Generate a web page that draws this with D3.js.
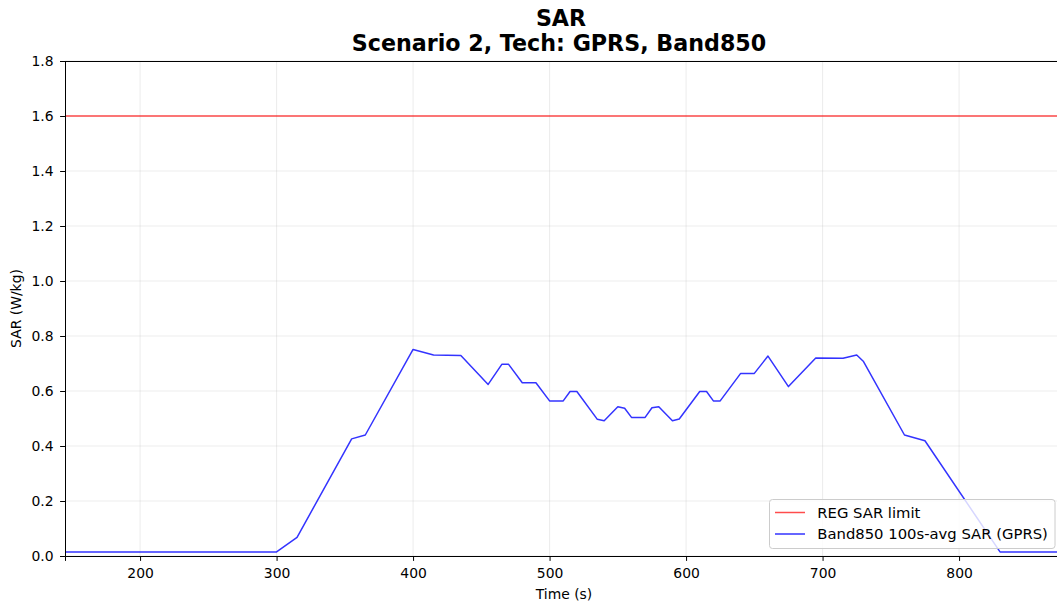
<!DOCTYPE html>
<html>
<head>
<meta charset="utf-8">
<script src="https://cdn.jsdelivr.net/npm/d3@7"></script>
<style>
  body { margin: 0; background: #fff; }
  svg { display: block; font-family: "DejaVu Sans", sans-serif; }
</style>
</head>
<body>
<svg id="chart" width="1057" height="606"></svg>
<script>
// Band850 100 s averaged SAR over time (GPRS)
const timeSec = [145, 300, 315, 355, 365, 400, 415, 435, 455, 465, 470, 480, 490, 500, 510, 515, 520, 535, 540, 550, 555, 560, 570, 575, 580, 590, 595, 610, 615, 620, 625, 640, 650, 660, 675, 695, 715, 725, 730, 760, 775, 830, 880];
const sarAvg = [0.015, 0.015, 0.068, 0.426, 0.44, 0.751, 0.731, 0.729, 0.624, 0.697, 0.697, 0.63, 0.63, 0.564, 0.564, 0.598, 0.598, 0.497, 0.492, 0.543, 0.537, 0.504, 0.504, 0.539, 0.543, 0.492, 0.498, 0.598, 0.598, 0.564, 0.564, 0.664, 0.664, 0.727, 0.616, 0.72, 0.719, 0.731, 0.707, 0.44, 0.419, 0.015, 0.015];
const regLimit = 1.6;

const xTicks = [200, 300, 400, 500, 600, 700, 800];
const yTicks = [0.0, 0.2, 0.4, 0.6, 0.8, 1.0, 1.2, 1.4, 1.6, 1.8];
const legendLabels = ["REG SAR limit", "Band850 100s-avg SAR (GPRS)"];

const W = 1057, H = 606;
const m = { left: 65, top: 61, right: 0, bottom: 50 };
const svg = d3.select("#chart");

const x = d3.scaleLinear().domain([145, 145 + (W - m.left) / 1.365]).range([m.left, W - m.right]);
const y = d3.scaleLinear().domain([0, 1.8]).range([H - m.bottom, m.top]);

svg.append("defs").append("clipPath").attr("id", "plot")
  .append("rect").attr("x", m.left).attr("y", m.top)
  .attr("width", W - m.left - m.right).attr("height", H - m.top - m.bottom);

// grid
const grid = svg.append("g").attr("stroke", "#b0b0b0").attr("stroke-opacity", 0.3).attr("stroke-width", 0.8);
grid.selectAll(".gx").data(xTicks).join("line")
  .attr("x1", d => x(d)).attr("x2", d => x(d)).attr("y1", m.top).attr("y2", H - m.bottom);
grid.selectAll(".gy").data(yTicks).join("line")
  .attr("x1", m.left).attr("x2", W - m.right).attr("y1", d => y(d)).attr("y2", d => y(d));

// regulatory limit
svg.append("line").attr("clip-path", "url(#plot)")
  .attr("x1", m.left).attr("x2", W).attr("y1", y(regLimit)).attr("y2", y(regLimit))
  .attr("stroke", "red").attr("stroke-opacity", 0.7).attr("stroke-width", 1.5);

// averaged SAR series
const line = d3.line().x((d, i) => x(timeSec[i])).y(d => y(d));
svg.append("path").datum(sarAvg).attr("clip-path", "url(#plot)")
  .attr("d", line).attr("fill", "none")
  .attr("stroke", "blue").attr("stroke-opacity", 0.8).attr("stroke-width", 1.5)
  .attr("stroke-linejoin", "round");

// axes
const xAxis = svg.append("g").attr("transform", `translate(0,${H - m.bottom})`)
  .call(d3.axisBottom(x).tickValues(xTicks).tickFormat(d3.format("d")).tickSizeOuter(0).tickSize(4.9).tickPadding(7));
const yAxis = svg.append("g").attr("transform", `translate(${m.left},0)`)
  .call(d3.axisLeft(y).tickValues(yTicks).tickFormat(d3.format(".1f")).tickSizeOuter(0).tickSize(4.9).tickPadding(6.5));
[xAxis, yAxis].forEach(g => {
  g.selectAll("text").attr("font-size", 13.9).attr("fill", "#000").attr("font-family", "DejaVu Sans");
  g.selectAll("line").attr("stroke", "#000").attr("stroke-width", 1);
  g.select(".domain").attr("stroke", "#000").attr("stroke-width", 1);
});
// top spine
svg.append("line").attr("x1", m.left).attr("x2", W).attr("y1", m.top + 0.5).attr("y2", m.top + 0.5)
  .attr("stroke", "#000").attr("stroke-width", 1);

// axis labels
svg.append("text").attr("x", 564).attr("y", 599).attr("text-anchor", "middle")
  .attr("font-size", 13.9).text("Time (s)");
svg.append("text").attr("transform", `translate(21,${(m.top + H - m.bottom) / 2}) rotate(-90)`)
  .attr("text-anchor", "middle").attr("font-size", 13.9).text("SAR (W/kg)");

// title
svg.append("text").attr("x", 561).attr("y", 26).attr("text-anchor", "middle")
  .attr("font-size", 22.2).attr("font-weight", "bold").text("SAR");
svg.append("text").attr("x", 559).attr("y", 51).attr("text-anchor", "middle")
  .attr("font-size", 22.2).attr("font-weight", "bold").text("Scenario 2, Tech: GPRS, Band850");

// legend
const lg = svg.append("g").attr("transform", "translate(769.5,499.5)");
lg.append("rect").attr("width", 285.5).attr("height", 49).attr("rx", 3)
  .attr("fill", "#fff").attr("fill-opacity", 0.8).attr("stroke", "#ccc").attr("stroke-width", 1);
const legendColors = ["red", "blue"];
legendLabels.forEach((lab, i) => {
  const yy = 13 + i * 21.5;
  lg.append("line").attr("x1", 5.5).attr("x2", 35.5).attr("y1", yy).attr("y2", yy)
    .attr("stroke", legendColors[i]).attr("stroke-opacity", i ? 0.8 : 0.7).attr("stroke-width", 1.5);
  lg.append("text").attr("x", 47.8).attr("y", yy + 5.3).attr("font-size", 14.8).attr("fill", "#000").text(lab);
});
</script>
</body>
</html>
